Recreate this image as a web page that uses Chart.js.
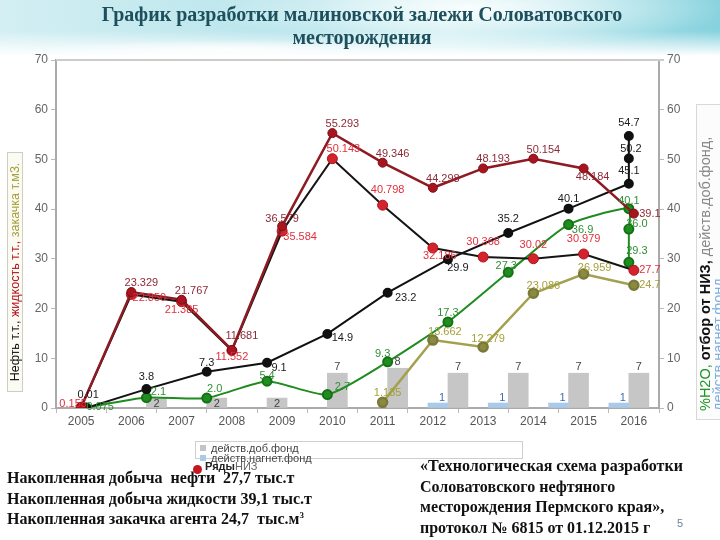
<!DOCTYPE html>
<html>
<head>
<meta charset="utf-8">
<script src="https://cdn.jsdelivr.net/npm/chart.js@4.4.1/dist/chart.umd.min.js"></script>
<style>
  body { margin: 0; width: 720px; height: 540px; position: relative; overflow: hidden; background: #fff; font-family: 'Liberation Sans', Arial, sans-serif; }
  #head {
    position: absolute; left: 0; top: 0; width: 720px; height: 56px; z-index: 0;
    background:
      linear-gradient(to bottom, rgba(255,255,255,0) 55%, #fff 100%),
      radial-gradient(ellipse 260px 40px at 470px 8px, rgba(255,255,255,0.9), rgba(255,255,255,0) 100%),
      radial-gradient(ellipse 200px 10px at 230px 50px, rgba(255,255,255,0.9), rgba(255,255,255,0) 100%),
      linear-gradient(to right, #d3eff3, #b5e4eb 45%, #c9edf1 62%, #86d2de 100%);
  }
  #title { position: absolute; left: 60px; width: 604px; top: 3px; text-align: center; z-index: 2;
    font: bold 20px 'Liberation Serif', 'Times New Roman', serif; line-height: 23px; color: #1d4f5c; }
  canvas { position: absolute; left: 0; top: 0; z-index: 1; }
  .rot { position: absolute; z-index: 2; transform: rotate(-90deg); white-space: nowrap; box-sizing: border-box; }
  #ltitle { left: -105px; top: 264px; width: 240px; height: 16px; border: 1px solid #cfcfc0; background: #fbfbf3;
    font-size: 12.5px; line-height: 14px; text-align: center; }
  #rtitle { left: 553px; top: 247px; width: 316px; height: 30px; border: 1px solid #d8d8d8; background: #fcfcfc;
    font-size: 14.5px; line-height: 13px; padding: 2px 0 0 8px; }
  #legend { position: absolute; z-index: 2; left: 195px; top: 441px; width: 326px; height: 16px; border: 1px solid #cfcfcf;
    background: #fff; font-size: 11px; color: #444; }
  .li { position: absolute; left: 4px; white-space: nowrap; line-height: 11px; }
  .sw { display: inline-block; width: 6px; height: 6px; margin-right: 5px; vertical-align: 1px; }
  .notes { position: absolute; z-index: 2; font: bold 16px 'Liberation Serif', 'Times New Roman', serif; color: #111; line-height: 20.5px; white-space: nowrap; }
  #pg { position: absolute; z-index: 2; left: 677px; top: 517px; font-size: 11px; color: #6a7f95; }
</style>
</head>
<body>
<div id="head"></div>
<div id="title">График разработки малиновской залежи Соловатовского<br>месторождения</div>
<canvas id="devChart" width="720" height="540"></canvas>

<div id="ltitle" class="rot"><span style="color:#111">Нефть т.т.,</span> <span style="color:#b3121e">жидкость т.т.,</span> <span style="color:#a3a03c">закачка т.м3.</span></div>
<div id="rtitle" class="rot"><span style="color:#23952a">%H2O,</span> <b style="color:#111">отбор от НИЗ,</b> <span style="color:#888">действ.доб.фонд,</span><br><span style="color:#7fb0e0">действ.нагнет.фонд</span></div>

<div id="legend">
  <div class="li" style="top:1px"><span class="sw" style="background:#c4c4c4"></span>действ.доб.фонд</div>
  <div class="li" style="top:11px"><span class="sw" style="background:#a9cbe9"></span>действ.нагнет.фонд</div>
  <div class="li" style="top:19px;left:-3px"><span style="display:inline-block;width:9px;height:9px;border-radius:50%;background:#c3161f;margin-right:3px;vertical-align:-4px"></span><b style="color:#222">Ряды</b><span style="color:#666">НИЗ</span></div>
</div>

<div class="notes" style="left:7px;top:468px">Накопленная добыча&nbsp; нефти&nbsp; 27,7 тыс.т<br>Накопленная добыча жидкости 39,1 тыс.т<br>Накопленная закачка агента 24,7&nbsp; тыс.м<sup style="font-size:9px;vertical-align:6px;line-height:0">3</sup></div>
<div class="notes" style="left:420px;top:456px">«Технологическая схема разработки<br>Соловатовского нефтяного<br>месторождения Пермского края»,<br>протокол № 6815 от 01.12.2015 г</div>
<div id="pg">5</div>

<script>
// ---- data ----
const years = ['2005', '2006', '2007', '2008', '2009', '2010', '2011', '2012', '2013', '2014', '2015', '2016'];
const liquidT = ['0.155', '23.329', '21.767', '11.681', '36.579', '55.293', '49.346', '44.298', '48.193', '50.154', '48.184', '39.1'];
const oilT = ['0.155', '22.850', '21.385', '11.552', '35.584', '50.143', '40.798', '32.186', '30.368', '30.02', '30.979', '27.7'];
const injectT = [null, null, null, null, null, null, '1.135', '13.662', '12.279', '23.086', '26.959', '24.7'];

// second series set sits on 10 evenly spaced slots, last slot holds a vertical run
const slots = ['1', '2', '3', '4', '5', '6', '7', '8', '9', '10'];
const slotX = [0, 1, 2, 3, 4, 5, 6, 7, 8, 9, 9, 9];
const recoveryT = ['0.01', '3.8', '7.3', '9.1', '14.9', '23.2', '29.9', '35.2', '40.1', '45.1', '50.2', '54.7'];
const waterT = ['0.075', '2.1', '2.0', '5.4', '2.7', '9.3', '17.3', '27.3', '36.9', '40.1', '36.0', '29.3'];
const prodWells = [null, 2, 2, 2, 7, 8, 7, 7, 7, 7];
const injWells = [null, null, null, null, null, null, 1, 1, 1, 1];

const num = a => a.map(v => v == null ? null : Number(v));
const pts = a => slotX.map((x, i) => ({ x: x, y: Number(a[i]) }));

// label placement tweaks (px from the point)
const liquidOff = [null, null, null, [10, -14], [0, -7], null, null, null, null, null, [9, 9], [16, 0]];
const oilOff = [[-8, -3], [18, 4], [0, 8], [0, 6], [18, 6], [11, -10], [5, -15], [7, 8], [0, -15], [0, -14], [0, -15], [16, 0]];
const recOff = [[2, -13], [0, -12], [0, -9], [12, 5], [15, 4], [18, 5], [10, 9], [0, -14], [0, -10], [0, -13], [2, -9], [0, -13]];
const waterOff = [[14, -1], [12, -6], [8, -9], [0, -5], [15, -8], [-5, -8], [0, -9], [-2, -6], [14, 5], [0, -8], [8, -5], [8, -11]];
const injOff = [null, null, null, null, null, null, [5, -9], [12, -8], [5, -8], [10, -7], [11, -6], [16, 0]];

const valueLabels = {
  id: 'valueLabels',
  afterDatasetsDraw(chart) {
    const ctx = chart.ctx;
    ctx.save();
    ctx.font = "11px 'Liberation Sans', Arial, sans-serif";
    ctx.textAlign = 'center';
    ctx.textBaseline = 'middle';
    chart.data.datasets.forEach((ds, i) => {
      if (!ds.tags) return;
      ctx.fillStyle = ds.tagColor;
      chart.getDatasetMeta(i).data.forEach((el, j) => {
        const t = ds.tags[j];
        if (t == null || el.skip) return;
        const o = (ds.tagOff && ds.tagOff[j]) || ds.tagDef;
        ctx.fillText(t, el.x + o[0], el.y + o[1]);
      });
    });
    ctx.restore();
  }
};

const topFrame = {
  id: 'topFrame',
  beforeDatasetsDraw(chart) {
    const { ctx, chartArea: a } = chart;
    ctx.save();
    ctx.strokeStyle = '#cccccc';
    ctx.lineWidth = 2;
    ctx.beginPath();
    ctx.moveTo(a.left, a.top);
    ctx.lineTo(a.right + 5, a.top);
    ctx.stroke();
    ctx.restore();
  }
};

const axisY = (pos, w) => ({
  position: pos, min: 0, max: 70,
  ticks: { stepSize: 10, color: '#666', font: { size: 12, family: "'Liberation Sans', Arial" }, padding: 3 },
  grid: { drawOnChartArea: false, tickLength: 5, color: '#bbb' },
  border: { color: '#aaa', width: 2 },
  afterFit: s => { s.width = w; }
});

new Chart(document.getElementById('devChart'), {
  type: 'line',
  data: {
    labels: years,
    datasets: [
      {
        label: 'жидкость', data: num(liquidT), xAxisID: 'x', yAxisID: 'y', order: 0,
        borderColor: '#8e1a22', borderWidth: 2.5, pointRadius: 4.5,
        pointBackgroundColor: '#a8151f', pointBorderColor: '#7a0e16', pointBorderWidth: 1,
        tags: liquidT.map((t, i) => i === 0 ? null : t), tagOff: liquidOff, tagDef: [10, -9], tagColor: '#8c2a36'
      },
      {
        label: 'нефть', data: num(oilT), xAxisID: 'x', yAxisID: 'y', order: 1,
        borderColor: '#151515', borderWidth: 2, pointRadius: 5,
        pointBackgroundColor: '#d4232d', pointBorderColor: '#a8121a', pointBorderWidth: 1,
        tags: oilT, tagOff: oilOff, tagDef: [0, -12], tagColor: '#e0303c'
      },
      {
        label: 'отбор от НИЗ', data: pts(recoveryT), xAxisID: 'xs', yAxisID: 'y', order: 2,
        borderColor: '#111', borderWidth: 2, pointRadius: 4,
        pointBackgroundColor: '#111', pointBorderColor: '#111',
        tags: recoveryT, tagOff: recOff, tagDef: [0, -10], tagColor: '#1a1a1a'
      },
      {
        label: '%H2O', data: pts(waterT), xAxisID: 'xs', yAxisID: 'y', order: 3,
        borderColor: '#1f8c1f', borderWidth: 2, tension: 0.2, pointRadius: 4.5,
        pointBackgroundColor: '#1e8f1e', pointBorderColor: '#167016',
        tags: waterT, tagOff: waterOff, tagDef: [0, -9], tagColor: '#2f8f35'
      },
      {
        label: 'закачка', data: num(injectT), xAxisID: 'x', yAxisID: 'y', order: 4,
        borderColor: '#a3a04e', borderWidth: 2.5, pointRadius: 4.5,
        pointBackgroundColor: '#8b8a42', pointBorderColor: '#7a7938',
        tags: injectT, tagOff: injOff, tagDef: [10, -8], tagColor: '#a5a03a'
      },
      {
        type: 'bar', label: 'действ.нагнет.фонд', data: injWells, xAxisID: 'xb', yAxisID: 'y', order: 5,
        backgroundColor: '#a9cbe9', barThickness: 20,
        tags: injWells.map(v => v == null ? null : String(v)), tagDef: [4, -5], tagColor: '#3a6fb0'
      },
      {
        type: 'bar', label: 'действ.доб.фонд', data: prodWells, xAxisID: 'xb', yAxisID: 'y', order: 6,
        backgroundColor: '#c6c6c6', barThickness: 20,
        tags: prodWells.map(v => v == null ? null : String(v)),
        tagOff: prodWells.map(v => v === 2 ? [0, 6] : null), tagDef: [0, -6], tagColor: '#444'
      }
    ]
  },
  options: {
    responsive: false,
    animation: false,
    layout: { padding: { top: 60, left: 0, right: 21, bottom: 112 } },
    plugins: { legend: { display: false }, tooltip: { enabled: false } },
    scales: {
      x: {
        type: 'category', labels: years, offset: true, position: 'bottom',
        grid: { drawOnChartArea: false, tickLength: 5, color: '#bbb', offset: true },
        border: { color: '#aaa', width: 2 },
        ticks: { color: '#555', font: { size: 12, family: "'Liberation Sans', Arial" }, maxRotation: 0, autoSkip: false, padding: 1 },
        afterFit: s => { s.height = 20; }
      },
      xs: { type: 'linear', min: -0.5, max: 9.5, display: false },
      xb: { type: 'category', labels: slots, offset: true, display: false },
      y: axisY('left', 56),
      y2: axisY('right', 40)
    }
  },
  plugins: [topFrame, valueLabels]
});
</script>
</body>
</html>
